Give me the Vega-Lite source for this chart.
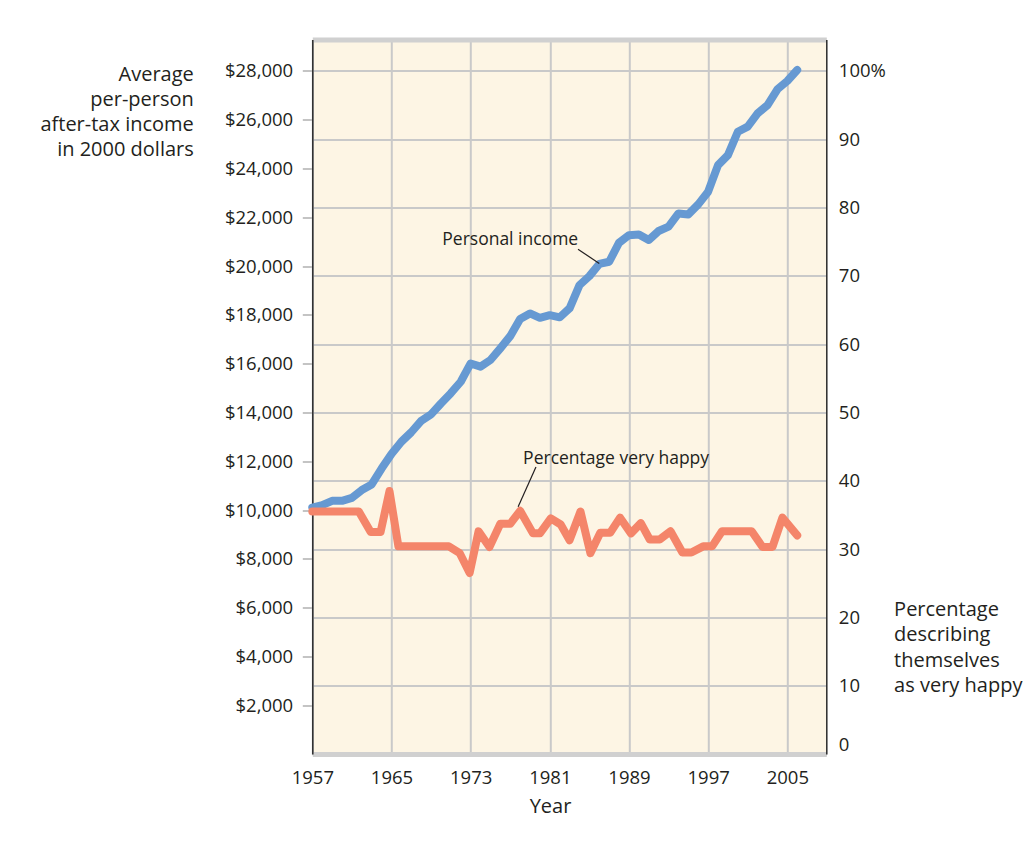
{
  "$schema": "https://vega.github.io/schema/vega-lite/v6.json",
  "width": 514,
  "height": 714.5,
  "autosize": {"type": "none"},
  "padding": {"left": 312.3, "top": 39.5, "right": 203.7, "bottom": 88},
  "background": "white",
  "config": {
    "view": {"fill": "#FDF5E4", "stroke": null},
    "font": "Open Sans",
    "axis": {"labelColor": "#231f20", "titleColor": "#231f20", "labelFont": "Open Sans", "titleFont": "Open Sans", "titleFontWeight": "normal", "labelFontSize": 18.5, "titleFontSize": 20},
    "text": {"font": "Open Sans"}
  },
  "datasets": {
    "income": [
      {"year": 1957, "income": 10100}, {"year": 1958, "income": 10200}, {"year": 1959, "income": 10380},
      {"year": 1960, "income": 10380}, {"year": 1961, "income": 10500}, {"year": 1962, "income": 10820},
      {"year": 1963, "income": 11050}, {"year": 1964, "income": 11700}, {"year": 1965, "income": 12300},
      {"year": 1966, "income": 12800}, {"year": 1967, "income": 13190}, {"year": 1968, "income": 13660},
      {"year": 1969, "income": 13920}, {"year": 1970, "income": 14370}, {"year": 1971, "income": 14790},
      {"year": 1972, "income": 15260}, {"year": 1973, "income": 16010}, {"year": 1974, "income": 15880},
      {"year": 1975, "income": 16150}, {"year": 1976, "income": 16630}, {"year": 1977, "income": 17130},
      {"year": 1978, "income": 17830}, {"year": 1979, "income": 18060}, {"year": 1980, "income": 17880},
      {"year": 1981, "income": 17990}, {"year": 1982, "income": 17900}, {"year": 1983, "income": 18270},
      {"year": 1984, "income": 19220}, {"year": 1985, "income": 19590}, {"year": 1986, "income": 20090},
      {"year": 1987, "income": 20180}, {"year": 1988, "income": 20960}, {"year": 1989, "income": 21270},
      {"year": 1990, "income": 21300}, {"year": 1991, "income": 21070}, {"year": 1992, "income": 21440},
      {"year": 1993, "income": 21620}, {"year": 1994, "income": 22160}, {"year": 1995, "income": 22120},
      {"year": 1996, "income": 22530}, {"year": 1997, "income": 23050}, {"year": 1998, "income": 24140},
      {"year": 1999, "income": 24550}, {"year": 2000, "income": 25510}, {"year": 2001, "income": 25720},
      {"year": 2002, "income": 26260}, {"year": 2003, "income": 26600}, {"year": 2004, "income": 27250},
      {"year": 2005, "income": 27590}, {"year": 2006, "income": 28040}
    ],
    "happy": [
      {"year": 1957, "pct": 35.5}, {"year": 1961.7, "pct": 35.5}, {"year": 1962.9, "pct": 32.5},
      {"year": 1963.9, "pct": 32.5}, {"year": 1964.8, "pct": 38.5}, {"year": 1965.7, "pct": 30.4},
      {"year": 1970.8, "pct": 30.4}, {"year": 1971.9, "pct": 29.4}, {"year": 1972.9, "pct": 26.5},
      {"year": 1973.8, "pct": 32.6}, {"year": 1974.9, "pct": 30.3}, {"year": 1976.0, "pct": 33.7},
      {"year": 1977.0, "pct": 33.7}, {"year": 1978.0, "pct": 35.6}, {"year": 1979.3, "pct": 32.3},
      {"year": 1980.0, "pct": 32.3}, {"year": 1981.1, "pct": 34.5}, {"year": 1982.1, "pct": 33.6},
      {"year": 1983.0, "pct": 31.3}, {"year": 1984.1, "pct": 35.5}, {"year": 1985.1, "pct": 29.4},
      {"year": 1986.1, "pct": 32.4}, {"year": 1987.1, "pct": 32.4}, {"year": 1988.1, "pct": 34.6},
      {"year": 1989.2, "pct": 32.3}, {"year": 1990.2, "pct": 33.8}, {"year": 1991.1, "pct": 31.4},
      {"year": 1992.1, "pct": 31.4}, {"year": 1993.2, "pct": 32.6}, {"year": 1994.4, "pct": 29.5},
      {"year": 1995.3, "pct": 29.5}, {"year": 1996.5, "pct": 30.4}, {"year": 1997.4, "pct": 30.4},
      {"year": 1998.4, "pct": 32.6}, {"year": 2001.4, "pct": 32.6}, {"year": 2002.5, "pct": 30.3},
      {"year": 2003.5, "pct": 30.3}, {"year": 2004.5, "pct": 34.6}, {"year": 2006.0, "pct": 32.0}
    ],
    "leaders": [
      {"year": 1983.85, "pct": 73.9, "year2": 1986.0, "pct2": 71.8},
      {"year": 1979.6, "pct": 42.0, "year2": 1977.8, "pct2": 36.2}
    ],
    "labels": [
      {"year": 1977.0, "pct": 75.2, "label": "Personal income"},
      {"year": 1987.7, "pct": 43.2, "label": "Percentage very happy"}
    ]
  },
  "resolve": {"scale": {"y": "independent"}, "axis": {"x": "independent", "y": "independent"}},
  "layer": [
    {
      "data": {"name": "income"},
      "mark": {"type": "line", "color": "#6699D2", "strokeWidth": 8, "strokeCap": "round", "strokeJoin": "round"},
      "encoding": {
        "x": {"field": "year", "type": "quantitative",
          "scale": {"domain": [1957, 2008.94], "nice": false, "zero": false},
          "axis": {"orient": "top", "labels": false, "ticks": false, "grid": false, "title": null, "domainColor": "#d0d0d0", "domainWidth": 5}},
        "y": {"field": "income", "type": "quantitative",
          "scale": {"domain": [0, 29290], "nice": false},
          "axis": {"orient": "left", "values": [2000, 4000, 6000, 8000, 10000, 12000, 14000, 16000, 18000, 20000, 22000, 24000, 26000, 28000],
            "format": "$,.0f", "grid": false, "tickColor": "#c4c4c4", "tickWidth": 2, "tickSize": 10, "labelPadding": 9.6,
            "domainColor": "#2a2a2a", "domainWidth": 1.5,
            "title": ["Average", "per-person", "after-tax income", "in 2000 dollars"],
            "titleAngle": 0, "titleAlign": "right", "titleBaseline": "alphabetic", "titleX": -119, "titleY": 41, "titleLineHeight": 25}}
      }
    },
    {
      "layer": [
        {
          "data": {"name": "happy"},
          "mark": {"type": "line", "color": "#F4856A", "strokeWidth": 8, "strokeCap": "round", "strokeJoin": "round"},
          "encoding": {
            "x": {"field": "year", "type": "quantitative",
              "scale": {"domain": [1957, 2008.94], "nice": false, "zero": false},
              "axis": {"orient": "bottom", "values": [1957, 1965, 1973, 1981, 1989, 1997, 2005], "format": "d", "labelFlush": false,
                "grid": true, "gridColor": "#c9c9c9", "gridWidth": 2, "ticks": false, "tickSize": 0, "labelPadding": 14,
                "domainColor": "#d0d0d0", "domainWidth": 5,
                "title": "Year", "titleX": 237.7, "titleY": 58, "titleBaseline": "alphabetic", "titleAlign": "center"}},
            "y": {"field": "pct", "type": "quantitative",
              "scale": {"domain": [0, 104.6], "nice": false},
              "axis": {"orient": "right", "values": [0, 10, 20, 30, 40, 50, 60, 70, 80, 90, 100],
                "labelExpr": "datum.value == 100 ? '100%' : datum.label",
                "labelBaseline": {"condition": {"test": "datum.value == 0", "value": "bottom"}, "value": "middle"},
                "grid": true, "gridColor": "#c9c9c9", "gridWidth": 2, "ticks": false, "tickSize": 0, "labelPadding": 12,
                "domainColor": "#2a2a2a", "domainWidth": 1.5,
                "title": ["Percentage", "describing", "themselves", "as very happy"],
                "titleAngle": 0, "titleAlign": "left", "titleBaseline": "alphabetic", "titleX": 67.3, "titleY": 575.5, "titleLineHeight": 25.5}}
          }
        },
        {
          "data": {"name": "leaders"},
          "mark": {"type": "rule", "color": "#231f20", "strokeWidth": 1.2},
          "encoding": {
            "x": {"field": "year", "type": "quantitative", "scale": {"domain": [1957, 2008.94], "nice": false, "zero": false}},
            "x2": {"field": "year2"},
            "y": {"field": "pct", "type": "quantitative", "scale": {"domain": [0, 104.6], "nice": false}},
            "y2": {"field": "pct2"}
          }
        },
        {
          "data": {"name": "labels"},
          "mark": {"type": "text", "fontSize": 17.5, "color": "#231f20", "align": "center", "baseline": "middle"},
          "encoding": {
            "x": {"field": "year", "type": "quantitative", "scale": {"domain": [1957, 2008.94], "nice": false, "zero": false}},
            "y": {"field": "pct", "type": "quantitative", "scale": {"domain": [0, 104.6], "nice": false}},
            "text": {"field": "label"}
          }
        }
      ]
    }
  ]
}
